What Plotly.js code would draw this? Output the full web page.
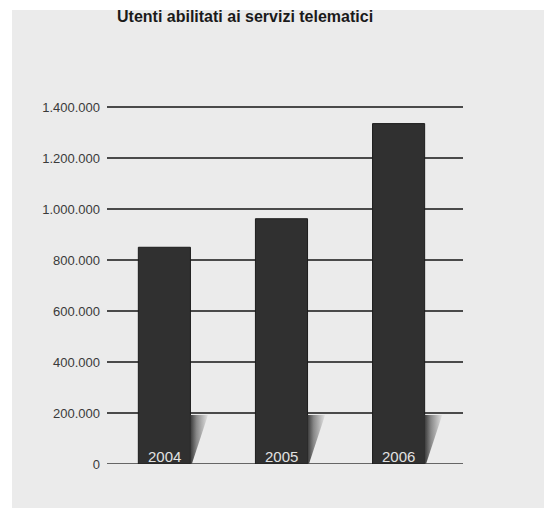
<!DOCTYPE html>
<html>
<head>
<meta charset="utf-8">
<script src="https://cdn.plot.ly/plotly-3.0.1.min.js"></script>
<style>
  html, body { margin: 0; padding: 0; background: #ffffff; }
  #chart { width: 544px; height: 508px; }
</style>
</head>
<body>
<div id="chart"></div>
<script>
// Utenti abilitati ai servizi telematici, per anno
const years = ['2004', '2005', '2006'];
const users = [850000, 962000, 1335000];
const tickValues = [0, 200000, 400000, 600000, 800000, 1000000, 1200000, 1400000];

const barWidth = 0.445;
const shadowTop = 192000;   // height of the cast shadow beside each bar
const shadowReach = 0.15;   // horizontal reach of the shadow, in category units

const traces = [];

// cast shadows at the foot of every bar, fading out away from the bar
years.forEach((yr, i) => {
  const edge = i + barWidth / 2;
  traces.push({
    type: 'scatter',
    mode: 'lines',
    x: [edge, edge + shadowReach, edge + 0.012, edge],
    y: [shadowTop, shadowTop, 0, 0],
    fill: 'toself',
    fillgradient: {
      type: 'horizontal',
      start: edge,
      stop: edge + shadowReach,
      colorscale: [[0, '#3a3a3a'], [0.35, '#888888'], [1, '#e2e2e2']]
    },
    line: { width: 0 },
    hoverinfo: 'skip',
    showlegend: false
  });
});

traces.push({
  type: 'bar',
  x: [0, 1, 2],
  y: users,
  width: barWidth,
  marker: { color: '#303030', line: { color: '#1c1c1c', width: 1 } },
  hoverinfo: 'y',
  showlegend: false
});

// year labels sitting inside the foot of each bar
const annotations = years.map((yr, i) => ({
  x: i, y: 0, xref: 'x', yref: 'y',
  text: yr, showarrow: false,
  yanchor: 'bottom', xanchor: 'center', yshift: -3,
  font: { family: 'Liberation Sans, Arial, sans-serif', size: 15, color: '#e2e2e2' }
}));

const layout = {
  width: 544,
  height: 508,
  margin: { l: 107, r: 81, t: 105, b: 44 },
  paper_bgcolor: '#ffffff',
  plot_bgcolor: 'rgba(0,0,0,0)',
  separators: ',.',
  title: {
    text: '<b>Utenti abilitati ai servizi telematici</b>',
    x: 117 / 544, xanchor: 'left', xref: 'container',
    y: 1 - 16 / 508, yanchor: 'middle', yref: 'container',
    font: { family: 'Liberation Sans, Arial, sans-serif', size: 16, color: '#1a1a1a' }
  },
  xaxis: {
    range: [-0.49, 2.55],
    showticklabels: false,
    showgrid: false,
    zeroline: false,
    showline: false,
    fixedrange: true
  },
  yaxis: {
    range: [0, 1408000],
    tickvals: tickValues,
    tickformat: ',d',
    ticks: '',
    ticklabelstandoff: 6,
    showgrid: true,
    gridcolor: '#4a4a4a',
    gridwidth: 1.3,
    zeroline: false,
    showline: false,
    tickfont: { family: 'Liberation Sans, Arial, sans-serif', size: 13, color: '#3a3a3a' },
    fixedrange: true
  },
  shapes: [
    // page area behind the chart
    {
      type: 'rect', xref: 'paper', yref: 'paper', layer: 'below',
      x0: (12 - 107) / 356, x1: (544 - 107) / 356,
      y0: -44 / 359, y1: (508 - 10 - 44) / 359,
      fillcolor: '#ebebeb', line: { width: 0 }
    },
    // baseline
    {
      type: 'line', xref: 'paper', yref: 'y',
      x0: 0, x1: 1, y0: 0, y1: 0,
      line: { color: '#3a3a3a', width: 1.5 }, layer: 'below'
    }
  ],
  annotations: annotations,
  bargap: 0
};

Plotly.newPlot('chart', traces, layout, { displayModeBar: false, staticPlot: true });
</script>
</body>
</html>
